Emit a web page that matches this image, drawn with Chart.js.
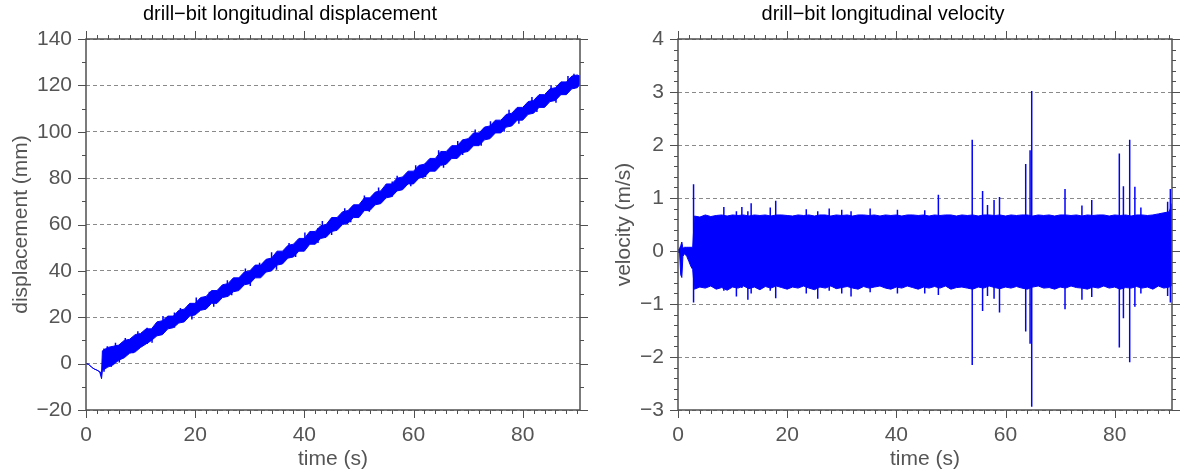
<!DOCTYPE html>
<html>
<head>
<meta charset="utf-8">
<script src="https://cdn.jsdelivr.net/npm/chart.js@4/dist/chart.umd.min.js"></script>
<style>
  html, body { margin: 0; padding: 0; background: #fff; }
  #wrap { position: relative; width: 1188px; height: 476px; }
  #wrap canvas { position: absolute; top: 0; }
  #dispChart { left: 0; }
  #velChart { left: 594px; }
</style>
</head>
<body>
<div id="wrap">
  <canvas id="dispChart" width="594" height="476"></canvas>
  <canvas id="velChart" width="594" height="476"></canvas>
</div>
<script>
// ---- data ----
const timeTicks = [0, 20, 40, 60, 80];
const dispTicks = [-20, 0, 20, 40, 60, 80, 100, 120, 140];
const velTicks = [-3, -2, -1, 0, 1, 2, 3, 4];

// displacement (mm): upper / lower edge of the dense trace
const dispTime = [0, 0.5, 1, 1.5, 2, 2.5, 2.85,
  3, 4, 5, 6, 7, 8, 9, 10, 11, 12,
  13, 14, 15, 16, 17, 18, 19, 20, 21, 22,
  23, 24, 25, 26, 27, 28, 29, 30, 31, 32,
  33, 34, 35, 36, 37, 38, 39, 40, 41, 42,
  43, 44, 45, 46, 47, 48, 49, 50, 51, 52,
  53, 54, 55, 56, 57, 58, 59, 60, 61, 62,
  63, 64, 65, 66, 67, 68, 69, 70, 71, 72,
  73, 74, 75, 76, 77, 78, 79, 80, 81, 82,
  83, 84, 85, 86, 87, 88, 89, 90, 90.5];
const dispUpper = [0, -0.3, -1.5, -2.3, -2.8, -3.5, -4,
  5.5, 7, 7.5, 8, 10, 10.5, 12.5, 13, 15, 15,
  18, 18.5, 20.5, 20.5, 23, 23.5, 26, 26, 28.5, 29,
  31.5, 31.5, 34, 34.5, 37, 37, 39.5, 40, 42.5, 42.5,
  45, 45.5, 48.5, 48.5, 51, 51.5, 54, 54, 57, 57,
  59.5, 60, 63, 63, 65.5, 66, 68.5, 68.5, 71.5, 71.5,
  74, 74.5, 77.5, 77.5, 80, 80.5, 83, 83, 85.5, 86,
  88.5, 88.5, 91.5, 91.5, 94, 94, 96.5, 97, 99.5, 99.5,
  102, 102.5, 105, 105, 107.5, 108, 110.5, 110.5, 113, 113.5,
  116, 116, 118.5, 119, 121.5, 121.5, 124, 124.5, 124];
const dispLower = [0, -0.3, -1.5, -2.3, -2.8, -3.5, -6.5,
  -3, -1.5, -0.5, 1.5, 2.5, 4.5, 5, 7, 8.5, 10,
  12, 12.5, 15, 15.5, 17.5, 18, 20.5, 21, 23, 23.5,
  26, 26, 28.5, 29, 31, 31.5, 34, 34.5, 37, 37,
  39.5, 40, 42.5, 43, 45.5, 46, 48.5, 48.5, 51.5, 51.5,
  54, 54.5, 57, 57.5, 60, 60.5, 63, 63, 66, 66,
  68.5, 69, 71.5, 72, 74.5, 75, 77.5, 77.5, 80, 80.5,
  83, 83, 85.5, 86, 88.5, 88.5, 91, 91.5, 94, 94,
  96.5, 97, 99.5, 99.5, 102, 102.5, 105, 105, 107.5, 108,
  110.5, 110.5, 113, 113.5, 116, 116, 118.5, 119, 120.5];

// stick-slip jumps poking out of the displacement band: time, top, bottom
const dispSpikeTime = [3.3, 3.9, 4.6, 5.4, 6.1, 7.2, 8.6, 9.5, 11.2, 12.1,
  14.1, 16.2, 17.3, 19.4, 20.2, 22.6, 23.4, 25.9, 26.7, 29.2,
  30.1, 31.8, 34.0, 34.9, 37.2, 38.4, 40.1, 42.5, 43.3, 45.0,
  47.4, 48.5, 51.0, 51.9, 53.6, 56.1, 57.0, 59.5, 60.4, 62.2,
  64.6, 65.5, 68.1, 69.0, 71.3, 72.4, 74.1, 76.6, 77.5, 79.3,
  81.7, 82.6, 85.2, 86.1, 88.3, 89.4];
const dispSpikeHigh = [6.5, 7.5, 7, 9, 8, 11, 11, 14, 15.5, 14.5,
  20.5, 22, 24, 25, 28.5, 31, 30, 36, 35.5, 41,
  39.5, 43.5, 48, 46, 52, 52, 56.5, 58.5, 61.5, 61.5,
  67, 67, 72.5, 71, 76, 78.5, 81, 82.5, 85.5, 86.5,
  92, 90, 96, 96.5, 101, 100, 104.5, 106, 109.5, 109,
  115, 115, 120, 118.5, 124, 125];
const dispSpikeLow = [-3.5, -1, -1.5, 2, 0.5, 4.5, 4.5, 8, 8.5, 9,
  15, 15.5, 18.5, 19, 22, 26.5, 24.5, 30, 29.5, 35,
  33.5, 38, 42.5, 40.5, 45.5, 46, 50.5, 52, 56, 55.5,
  61.5, 61, 66, 65.5, 70, 72, 75.5, 76.5, 79.5, 80.5,
  86, 84.5, 89.5, 90, 95.5, 94, 99, 100, 103, 103.5,
  109.5, 108.5, 114.5, 112.5, 118, 118.5];

// velocity (m/s): envelope of the dense oscillation
const velTime = [0, 0.3, 0.5, 0.7, 0.9, 1.2, 1.6, 2.0, 2.4, 2.7,
  3, 4, 5, 6, 7, 8, 9, 10, 11, 12,
  13, 14, 15, 16, 17, 18, 19, 20, 21, 22,
  23, 24, 25, 26, 27, 28, 29, 30, 31, 32,
  33, 34, 35, 36, 37, 38, 39, 40, 41, 42,
  43, 44, 45, 46, 47, 48, 49, 50, 51, 52,
  53, 54, 55, 56, 57, 58, 59, 60, 61, 62,
  63, 64, 65, 66, 67, 68, 69, 70, 71, 72,
  73, 74, 75, 76, 77, 78, 79, 80, 81, 82,
  83, 84, 85, 86, 87, 88, 89, 90, 90.5];
const velUpper = [0.02, 0.05, 0.1, 0.17, 0.05, 0.07, 0.07, 0.07, 0.07, 0.07,
  0.66, 0.64, 0.68, 0.65, 0.67, 0.68, 0.66, 0.68, 0.67, 0.68,
  0.66, 0.68, 0.67, 0.68, 0.66, 0.68, 0.68, 0.67, 0.66, 0.68,
  0.67, 0.68, 0.66, 0.68, 0.68, 0.66, 0.68, 0.67, 0.68, 0.66,
  0.68, 0.68, 0.67, 0.68, 0.66, 0.68, 0.67, 0.68, 0.66, 0.68,
  0.68, 0.67, 0.68, 0.66, 0.68, 0.67, 0.68, 0.68, 0.66, 0.68,
  0.67, 0.68, 0.66, 0.68, 0.68, 0.67, 0.68, 0.66, 0.68, 0.67,
  0.68, 0.68, 0.66, 0.68, 0.67, 0.68, 0.66, 0.68, 0.68, 0.67,
  0.68, 0.66, 0.68, 0.67, 0.68, 0.68, 0.66, 0.68, 0.67, 0.68,
  0.66, 0.68, 0.68, 0.67, 0.68, 0.7, 0.72, 0.74, 0.9];
const velLower = [-0.02, -0.05, -0.45, -0.5, -0.1, -0.05, -0.1, -0.2, -0.3, -0.35,
  -0.72, -0.68, -0.7, -0.66, -0.72, -0.69, -0.74, -0.68, -0.7, -0.66,
  -0.71, -0.68, -0.73, -0.67, -0.7, -0.66, -0.69, -0.72, -0.68, -0.7,
  -0.66, -0.7, -0.73, -0.68, -0.7, -0.66, -0.71, -0.69, -0.67, -0.7,
  -0.72, -0.67, -0.7, -0.68, -0.66, -0.7, -0.72, -0.68, -0.7, -0.66,
  -0.69, -0.72, -0.68, -0.7, -0.67, -0.7, -0.66, -0.72, -0.69, -0.68,
  -0.7, -0.72, -0.68, -0.7, -0.66, -0.69, -0.71, -0.68, -0.7, -0.67,
  -0.7, -0.72, -0.68, -0.66, -0.7, -0.69, -0.72, -0.68, -0.7, -0.66,
  -0.69, -0.7, -0.72, -0.68, -0.7, -0.66, -0.7, -0.68, -0.72, -0.69,
  -0.7, -0.67, -0.7, -0.68, -0.72, -0.66, -0.7, -0.68, -0.65];

// isolated velocity spikes: time, peak, trough
const spikeTime = [2.85, 8.4, 10.7, 11.7, 12.8, 13.4, 16.9, 17.9, 23.5, 25.6,
  27.7, 30, 31.7, 35.2, 40.2, 45.2, 47.7, 53.9, 55.8, 56.7,
  57.9, 58.9, 63.7, 64.5, 64.8, 70.9, 74.0, 75.8, 80.85, 81.6,
  82.75, 83.7, 84.8, 89.7, 90.2];
const spikeHigh = [1.26, 0.83, 0.75, 0.83, 0.75, 0.9, 0.82, 0.95, 0.79, 0.75,
  0.8, 0.78, 0.75, 0.8, 0.78, 0.77, 1.06, 2.1, 1.13, 0.87,
  0.96, 1.02, 1.64, 1.9, 3.02, 1.17, 0.86, 0.96, 1.84, 1.22,
  2.1, 1.21, 0.82, 0.93, 1.17];
const spikeLow = [-0.97, -0.75, -0.86, -0.7, -0.92, -0.8, -0.75, -0.89, -0.8, -0.9,
  -0.75, -0.8, -0.86, -0.78, -0.8, -0.8, -0.83, -2.15, -1.13, -0.85,
  -0.9, -1.16, -1.52, -1.75, -2.94, -1.1, -0.92, -0.87, -1.82, -1.27,
  -2.1, -1.05, -0.8, -0.85, -0.97];

// ---- styling ----
const FONT = 'Liberation Sans, Arial, Helvetica, sans-serif';
const BLUE = '#0000ff';
const AXIS = '#505050';
const LABEL = '#555555';

const minus = v => String(v).replace('-', '\u2212');

// frame round the plot with outward ticks on all four sides
const framePlugin = {
  id: 'frame',
  afterDatasetsDraw(chart, args, opts) {
    const { ctx, chartArea: a, scales: { x, y } } = chart;
    ctx.save();
    ctx.strokeStyle = AXIS;
    ctx.lineWidth = 1;
    const xTick = (v, len) => {
      const px = Math.round(x.getPixelForValue(v)) + 0.5;
      ctx.beginPath();
      ctx.moveTo(px, a.bottom); ctx.lineTo(px, a.bottom + len);
      ctx.moveTo(px, a.top); ctx.lineTo(px, a.top - len);
      ctx.stroke();
    };
    const yTick = (v, len) => {
      const py = Math.round(y.getPixelForValue(v)) + 0.5;
      ctx.beginPath();
      ctx.moveTo(a.left, py); ctx.lineTo(a.left - len, py);
      ctx.moveTo(a.right, py); ctx.lineTo(a.right + len, py);
      ctx.stroke();
    };
    for (let v = x.min; v <= x.max + 1e-9; v += opts.xMinor) xTick(v, 4);
    for (let v = y.min; v <= y.max + 1e-9; v += opts.yMinor) yTick(v, 4);
    x.ticks.forEach(t => xTick(t.value, 8));
    y.ticks.forEach(t => yTick(t.value, 8));
    ctx.lineWidth = 1.5;
    ctx.strokeRect(a.left, a.top, a.right - a.left, a.bottom - a.top);
    ctx.restore();
  }
};

function makeOptions(cfg) {
  return {
    responsive: false,
    animation: false,
    layout: { padding: { left: 0, right: cfg.padRight, top: 0, bottom: 0 } },
    plugins: {
      legend: { display: false },
      tooltip: { enabled: false },
      title: {
        display: true,
        text: cfg.title,
        color: '#000',
        font: { family: FONT, size: 20, weight: 'normal' },
        padding: { top: 2, bottom: 13 }
      },
      frame: { xMinor: 2, yMinor: cfg.yMinor }
    },
    scales: {
      x: {
        type: 'linear',
        min: 0,
        max: 90.5,
        afterBuildTicks: ax => { ax.ticks = timeTicks.map(v => ({ value: v })); },
        afterFit: ax => { ax.height = 66; },
        grid: { display: false, drawTicks: false },
        border: { display: false },
        ticks: { color: LABEL, font: { family: FONT, size: 21 }, padding: 13, maxRotation: 0 },
        title: {
          display: true, text: 'time (s)', color: LABEL,
          font: { family: FONT, size: 21 }, padding: { top: 0, bottom: 4 }
        }
      },
      y: {
        type: 'linear',
        min: cfg.yTicks[0],
        max: cfg.yTicks[cfg.yTicks.length - 1],
        afterBuildTicks: ax => { ax.ticks = cfg.yTicks.map(v => ({ value: v })); },
        afterFit: ax => { ax.width = cfg.axisWidth; },
        grid: { color: '#8a8a8a', lineWidth: 1, drawTicks: false },
        border: { display: false, dash: [4, 3] },
        ticks: { color: LABEL, font: { family: FONT, size: 21 }, padding: 14, callback: minus },
        title: {
          display: true, text: cfg.yTitle, color: LABEL,
          font: { family: FONT, size: 21 }, padding: { top: cfg.yTitlePad, bottom: 0 }
        }
      }
    }
  };
}

const lineStyle = { borderColor: BLUE, backgroundColor: BLUE, borderWidth: 1, pointRadius: 0, tension: 0 };

// vertical strokes (top, bottom, gap) for every spike
function spikeSeries(times, highs, lows) {
  const pts = [];
  times.forEach((t, i) => {
    pts.push({ x: t, y: highs[i] }, { x: t, y: lows[i] }, { x: t, y: null });
  });
  return pts;
}

new Chart(document.getElementById('dispChart'), {
  type: 'line',
  data: {
    datasets: [
      { ...lineStyle, data: dispTime.map((t, i) => ({ x: t, y: dispUpper[i] })), fill: false },
      { ...lineStyle, data: dispTime.map((t, i) => ({ x: t, y: dispLower[i] })), fill: '-1' },
      { ...lineStyle, borderWidth: 1.5, data: spikeSeries(dispSpikeTime, dispSpikeHigh, dispSpikeLow), fill: false, spanGaps: false }
    ]
  },
  options: makeOptions({
    title: 'drill\u2212bit longitudinal displacement',
    yTitle: 'displacement (mm)',
    yTicks: dispTicks, yMinor: 10,
    axisWidth: 86, padRight: 14, yTitlePad: 9
  }),
  plugins: [framePlugin]
});

new Chart(document.getElementById('velChart'), {
  type: 'line',
  data: {
    datasets: [
      { ...lineStyle, data: velTime.map((t, i) => ({ x: t, y: velUpper[i] })), fill: false },
      { ...lineStyle, data: velTime.map((t, i) => ({ x: t, y: velLower[i] })), fill: '-1' },
      { ...lineStyle, borderWidth: 1.5, data: spikeSeries(spikeTime, spikeHigh, spikeLow), fill: false, spanGaps: false }
    ]
  },
  options: makeOptions({
    title: 'drill\u2212bit longitudinal velocity',
    yTitle: 'velocity (m/s)',
    yTicks: velTicks, yMinor: 0.2,
    axisWidth: 84, padRight: 16, yTitlePad: 18
  }),
  plugins: [framePlugin]
});
</script>
</body>
</html>
